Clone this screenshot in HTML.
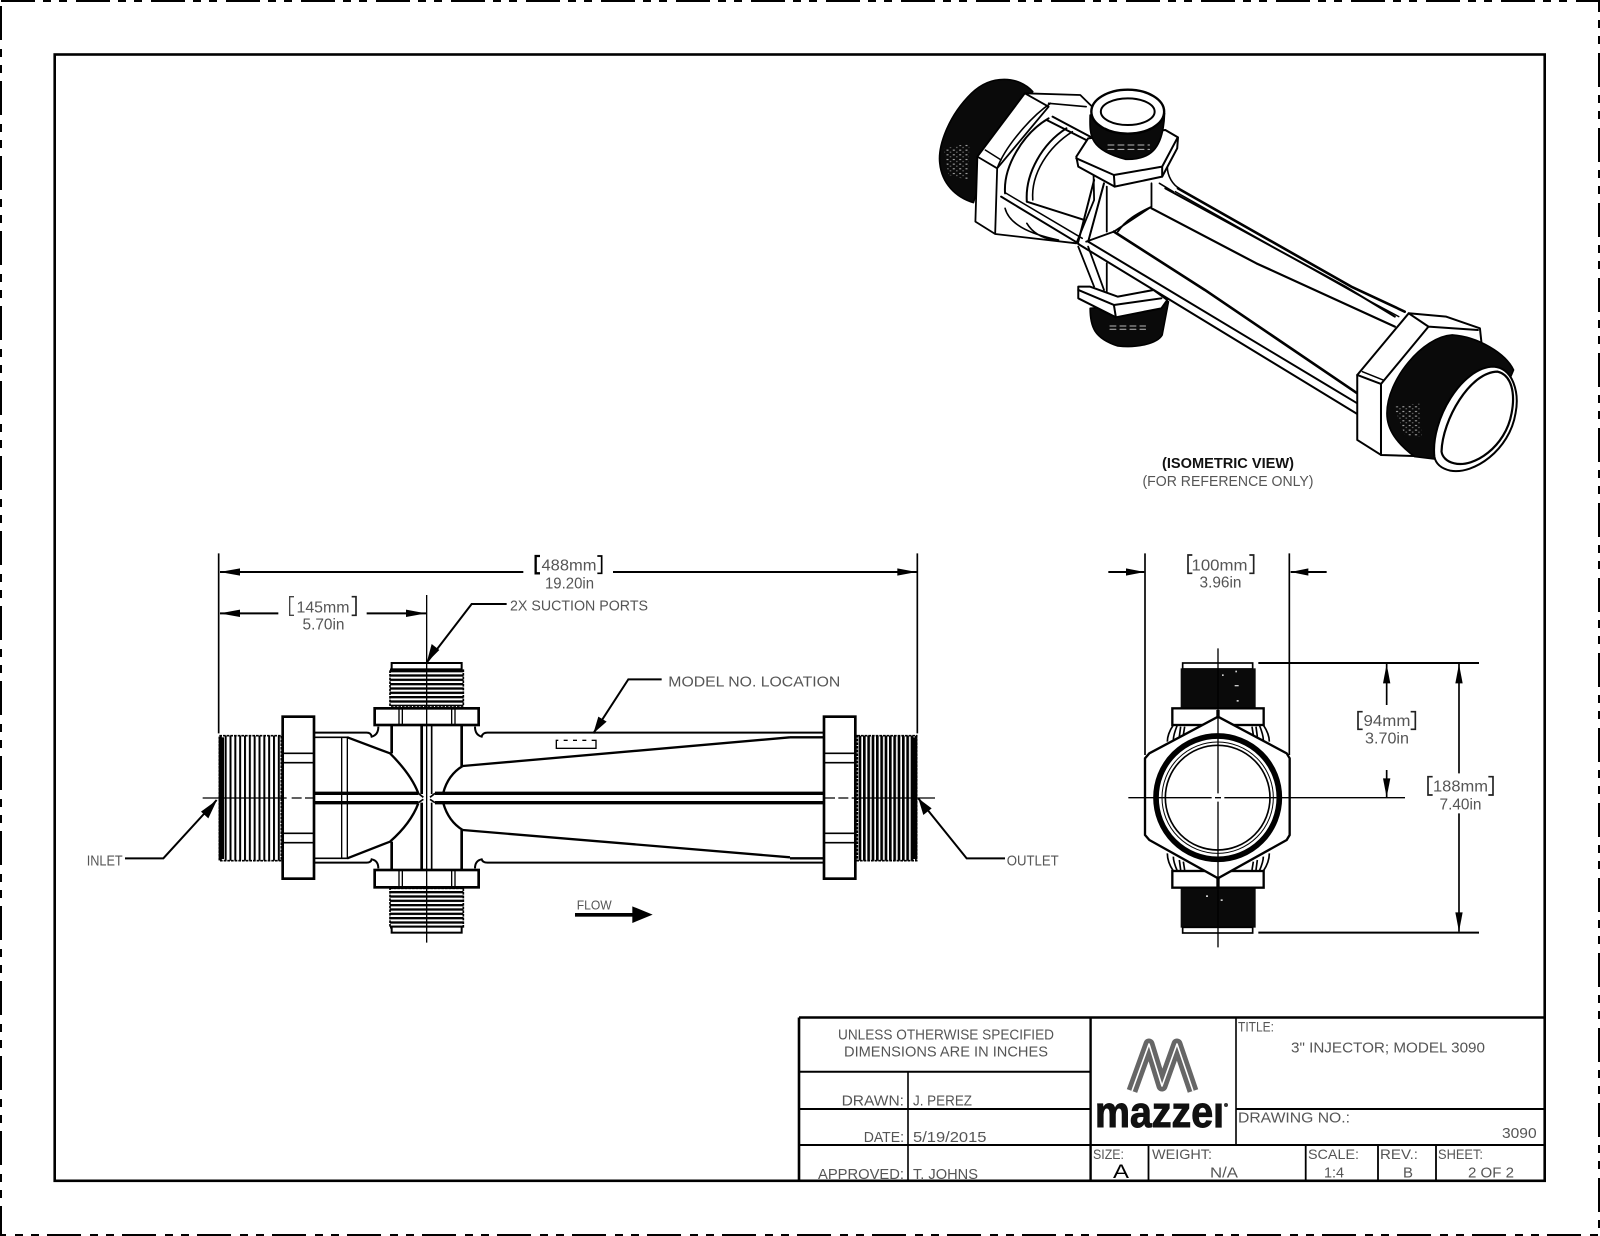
<!DOCTYPE html>
<html>
<head>
<meta charset="utf-8">
<title>3" Injector; Model 3090</title>
<style>
html,body{margin:0;padding:0;background:#fff}
svg{display:block}
text{font-family:"Liberation Sans",sans-serif;fill:#555}
.iso *{vector-effect:non-scaling-stroke}
</style>
</head>
<body>
<svg xmlns="http://www.w3.org/2000/svg" width="1600" height="1236" viewBox="0 0 1600 1236">
<defs>
<pattern id="tv" width="14.5" height="20" patternUnits="userSpaceOnUse"><rect width="14.5" height="20" fill="#fff"/><rect width="6" height="20" fill="#000"/></pattern>
<pattern id="tv2" width="13" height="20" patternUnits="userSpaceOnUse"><rect width="13" height="20" fill="#fff"/><rect width="8" height="20" fill="#000"/></pattern>
<pattern id="th" width="20" height="13" patternUnits="userSpaceOnUse"><rect width="20" height="13" fill="#fff"/><rect width="20" height="7" fill="#000"/></pattern>
<pattern id="fl" width="16" height="14" patternUnits="userSpaceOnUse"><rect width="16" height="14" fill="#0a0a0a"/><rect x="3" y="3" width="5" height="3" fill="#bbb"/><rect x="11" y="9" width="4" height="3" fill="#777"/></pattern>
</defs>
<rect width="1600" height="1236" fill="#fff"/>

<!-- sheet trim -->
<rect x="1" y="1" width="1598" height="1234" fill="none" stroke="#000" stroke-width="2" stroke-dasharray="34 8 8 8 8 9"/>
<!-- frame -->
<rect x="54.7" y="54.5" width="1490" height="1126.3" fill="none" stroke="#000" stroke-width="2.6"/>

<!-- ISOMETRIC VIEW -->
<g class="iso" transform="translate(920 60) scale(.3957 .3333)" fill="none" stroke="#000" stroke-width="1.6" stroke-linejoin="round" stroke-linecap="round">
  <!-- left thread -->
  <path d="M285,95 C250,48 180,42 130,100 C70,170 45,260 50,310 C55,370 90,412 135,428 L170,300 Z" fill="#0a0a0a"/>
  <path d="M60,265 L125,250 L122,360 L72,345 Z" fill="url(#fl)" stroke="none"/>
  <!-- left flange -->
  <path d="M265,100 L405,105 L435,140 L440,420 L395,550 L190,522 L140,485 L145,290 Z" fill="#fff" stroke-width="1.8"/>
  <path d="M145,290 L265,100 L325,140 L195,325 Z M195,325 L190,520" fill="#fff" stroke-width="1.8"/>
  <path d="M165,270 L205,300" stroke-width="1.5"/>
  <path d="M325,130 L420,140 M195,325 C215,260 280,170 330,130"/>
  <path d="M215,400 C210,320 260,220 325,175 M270,425 C265,340 310,250 370,205" stroke-width="2"/>
  <path d="M285,420 C280,340 325,260 385,215"/>
  <path d="M320,180 L420,240 M335,170 L430,230" stroke-width="2"/>
  <path d="M215,445 C225,490 270,520 350,540 M270,490 C285,520 310,535 340,540"/>
  <path d="M270,425 L415,480" stroke-width="2"/>
  <!-- main tube -->
  <path d="M400,550 L590,440 L625,385 L650,385 L1225,755 L1105,945 L1105,1060 Z" fill="#fff" stroke="none"/>
  <path d="M652,385 L1090,680 L1225,755" stroke-width="2.6"/>
  <path d="M620,385 L1075,680 L1200,770" stroke-width="2"/>
  <path d="M645,395 L1100,700 L1210,770" stroke-width="1.4"/>
  <path d="M585,445 L850,610 L1200,800" stroke-width="2.2"/>
  <path d="M490,515 L720,690 L1105,1000" stroke-width="2.6"/>
  <path d="M425,545 L1105,1030" stroke-width="2"/>
  <path d="M400,552 L1105,1062" stroke-width="2"/>
  <path d="M205,410 L400,550" stroke-width="2"/>
  <path d="M215,398 L410,535" stroke-width="1.5"/>
  <path d="M420,545 L490,515 L585,440 L585,370 M500,515 C520,480 550,460 585,440" stroke-width="1.8"/>
  <path d="M605,370 L640,395 M625,320 C625,350 640,375 655,385" stroke-width="1.6"/>
  <!-- struts -->
  <path d="M472,380 L472,515" stroke-width="1.8"/>
  <path d="M440,360 L400,545 M465,370 L425,545" stroke-width="2"/>
  <path d="M400,560 L440,680 M425,560 L465,690 M472,610 L472,695" stroke-width="1.8"/>
  <!-- lower port -->
  <path d="M430,745 C430,800 440,835 500,858 C550,865 600,850 612,825 L628,725 Z" fill="#0a0a0a"/>
  <path d="M480,798 H570 M480,808 H570" stroke="#bbb" stroke-width="1" stroke-dasharray="6 4"/>
  <path d="M400,680 L400,715 L495,772 L610,745 L625,720 L590,690 L500,710 L430,680 Z" fill="#fff" stroke-width="2"/>
  <path d="M400,690 L490,735 L610,715 M490,735 L495,772" stroke-width="2"/>
  <!-- upper port -->
  <path d="M395,290 L425,235 L620,210 L652,232 L650,265 L612,350 L492,380 L400,320 Z" fill="#fff" stroke-width="2"/>
  <path d="M395,295 L490,345 L612,320 L650,235 M490,345 L492,380 M612,320 L612,350" stroke-width="2"/>
  <path d="M430,165 C428,230 430,270 520,298 C580,300 615,270 618,160 Z" fill="#0a0a0a"/>
  <path d="M475,255 H580 M475,268 H580" stroke="#bbb" stroke-width="1" stroke-dasharray="6 4"/>
  <ellipse cx="525" cy="155" rx="92" ry="66" fill="#fff" stroke-width="2.4"/>
  <ellipse cx="525" cy="155" rx="68" ry="40" fill="#fff" stroke-width="2"/>
  <!-- right flange -->
  <path d="M1105,945 L1235,760 L1330,770 L1415,805 L1420,860 L1300,1190 L1165,1185 L1105,1140 Z" fill="#fff" stroke-width="2"/>
  <path d="M1105,945 L1165,972 L1285,800 L1235,760 M1165,972 L1165,1185 M1285,800 L1410,810" stroke-width="2"/>
  <path d="M1118,935 L1170,960" stroke-width="1.5"/>
  <!-- right thread -->
  <path d="M1180,1060 C1180,960 1270,830 1345,825 C1410,830 1480,880 1500,930 L1440,1100 L1320,1200 L1250,1190 C1205,1150 1180,1110 1180,1060 Z" fill="#0a0a0a"/>
  <path d="M1198,1040 L1262,1030 L1268,1130 L1225,1125 Z" fill="url(#fl)" stroke="none"/>
  <path d="M1300,1190 C1290,1080 1370,920 1450,920 C1500,925 1515,1000 1505,1060 C1490,1170 1400,1245 1340,1232 C1315,1225 1303,1210 1300,1190 Z" fill="#fff" stroke-width="2"/>
  <path d="M1318,1175 C1320,1080 1390,935 1460,935 C1495,945 1505,1000 1495,1060 C1480,1160 1400,1225 1350,1210 C1330,1205 1320,1190 1318,1175 Z" fill="#fff" stroke-width="2.2"/>
</g>
<text x="1162" y="468" font-size="14.5" font-weight="bold" style="fill:#111" textLength="132" lengthAdjust="spacingAndGlyphs">(ISOMETRIC VIEW)</text>
<text x="1142.5" y="486" font-size="15" textLength="171" lengthAdjust="spacingAndGlyphs">(FOR REFERENCE ONLY)</text>

<!-- FRONT VIEW (zoom units: 3 = 1px) -->
<g transform="translate(70 540) scale(.33333)" fill="none" stroke="#000" stroke-width="4">
  <!-- threads -->
  <rect x="448" y="587" width="186" height="375" fill="url(#tv)" stroke="#000" stroke-width="5" stroke-dasharray="8 3"/>
  <rect x="446" y="592" width="16" height="365" fill="#000" stroke="none"/>
  <rect x="2362" y="587" width="178" height="375" fill="url(#tv2)" stroke="#000" stroke-width="5" stroke-dasharray="8 3"/>
  <rect x="2528" y="592" width="14" height="365" fill="#000" stroke="none"/>
  <rect x="960" y="388" width="220" height="110" fill="url(#th)" stroke="#000" stroke-width="5" stroke-dasharray="8 3"/>
  <rect x="965" y="369" width="210" height="19" fill="#fff" stroke-width="6"/>
  <rect x="960" y="1045" width="220" height="118" fill="url(#th)" stroke="#000" stroke-width="5" stroke-dasharray="8 3"/>
  <rect x="965" y="1160" width="210" height="18" fill="#fff" stroke-width="6"/>
  <!-- body lines -->
  <path d="M735,578 H890 Q903,578 905,590 Q925,585 925,560" stroke-width="6"/>
  <path d="M735,592 H835" stroke-width="5"/>
  <path d="M1215,560 Q1215,585 1235,590 Q1238,578 1252,578 H2260" stroke-width="6"/>
  <path d="M735,968 H890 Q903,968 905,958 Q925,962 925,985" stroke-width="6"/>
  <path d="M735,955 H835" stroke-width="5"/>
  <path d="M1215,985 Q1215,962 1235,958 Q1238,968 1252,968 H2260" stroke-width="6"/>
  <path d="M2160,592 H2262 M2160,955 H2262" stroke-width="7"/>
  <path d="M1178,678 L2160,592" stroke-width="7"/>
  <path d="M1178,870 L2160,952" stroke-width="7"/>
  <path d="M1178,678 C1150,695 1130,720 1120,758" stroke-width="7"/>
  <path d="M1178,870 C1150,853 1130,825 1120,790" stroke-width="7"/>
  <path d="M735,760 H1045 M1095,760 H2260" stroke-width="10"/>
  <path d="M735,788 H1045 M1095,788 H2260" stroke-width="10"/>
  <path d="M1045,760 L1060,772 M1095,760 L1080,772 M1045,788 L1060,778 M1095,788 L1080,778" stroke-width="5"/>
  <path d="M815,592 V955 M832,592 V955" stroke-width="4"/>
  <path d="M832,592 L960,640 C1000,680 1030,720 1045,760" stroke-width="7"/>
  <path d="M832,955 L960,905 C1000,870 1030,830 1045,790" stroke-width="7"/>
  <path d="M965,558 V640 M965,905 V988" stroke-width="8"/>
  <path d="M1055,558 V762 M1055,788 V988" stroke-width="8"/>
  <path d="M1085,558 V762 M1085,788 V988" stroke-width="5"/>
  <path d="M1175,558 V678 M1175,870 V988" stroke-width="8"/>
  <!-- port flanges -->
  <rect x="914" y="505" width="312" height="50" fill="#fff" stroke-width="8"/>
  <rect x="914" y="990" width="312" height="52" fill="#fff" stroke-width="8"/>
  <path d="M987,505 V555 M997,505 V555 M1145,505 V555 M1155,505 V555 M987,990 V1042 M997,990 V1042 M1145,990 V1042 M1155,990 V1042" stroke-width="4"/>
  <!-- pipe flanges -->
  <rect x="638" y="530" width="94" height="486" fill="#fff" stroke-width="8"/>
  <path d="M640,640 H730 M640,668 H730 M640,880 H730 M640,908 H730" stroke-width="5"/>
  <rect x="2262" y="530" width="94" height="486" fill="#fff" stroke-width="8"/>
  <path d="M2264,640 H2354 M2264,668 H2354 M2264,880 H2354 M2264,908 H2354" stroke-width="5"/>
  <!-- centre lines -->
  <path d="M398,774 H650 M665,774 H695 M705,774 H730" stroke-width="4"/>
  <path d="M2265,774 H2295 M2305,774 H2335 M2345,774 H2595" stroke-width="4"/>
  <path d="M1070,165 V1208" stroke-width="4"/>
  <!-- model label -->
  <rect x="1459" y="601" width="119" height="24" stroke-width="4" fill="#fff"/>
  <path d="M1465,601 H1570" stroke="#fff" stroke-width="5" stroke-dasharray="16 12"/>
  <!-- dimensions -->
  <path d="M446,40 V580 M2542,40 V580" stroke-width="5"/>
  <path d="M450,96 H1360 M1629,96 H2540 M450,220 H625 M890,220 H1068" stroke-width="6"/>
  <g fill="#000" stroke="none">
    <polygon points="449,96 510,85 510,107"/>
    <polygon points="2540,96 2482,85 2482,107"/>
    <polygon points="449,220 510,209 510,231"/>
    <polygon points="1068,220 1008,209 1008,231"/>
    <polygon points="1070,368 1085,312 1108,330"/>
    <polygon points="1570,580 1585,530 1610,545"/>
    <polygon points="441,780 393,815 415,835"/>
    <polygon points="2545,775 2560,825 2585,805"/>
    <rect x="1515" y="1119" width="175" height="11"/>
    <polygon points="1687,1099 1748,1124 1687,1149"/>
  </g>
  <path d="M1070,368 L1205,192 H1310" stroke-width="6"/>
  <path d="M1570,580 L1675,418 H1775" stroke-width="6"/>
  <path d="M165,955 H280 L440,780" stroke-width="6"/>
  <path d="M2805,955 H2690 L2545,775" stroke-width="6"/>
  <!-- brackets -->
  <path d="M1410,48 H1397 V100 H1410" stroke-width="7"/>
  <path d="M1582,48 H1595 V100 H1582" stroke-width="5"/>
  <path d="M672,170 H659 V226 H672" stroke="#444" stroke-width="4"/>
  <path d="M845,170 H858 V226 H845" stroke="#222" stroke-width="5"/>
</g>
<text x="296.5" y="612.7" font-size="15.5" textLength="53" lengthAdjust="spacingAndGlyphs">145mm</text>
<text x="302.5" y="629.3" font-size="15.5" textLength="42" lengthAdjust="spacingAndGlyphs">5.70in</text>
<text x="541.5" y="570.7" font-size="15.5" textLength="55" lengthAdjust="spacingAndGlyphs">488mm</text>
<text x="545" y="588.3" font-size="15.5" textLength="49" lengthAdjust="spacingAndGlyphs">19.20in</text>
<text x="510" y="610.7" font-size="15" textLength="138" lengthAdjust="spacingAndGlyphs">2X SUCTION PORTS</text>
<text x="668.3" y="686.7" font-size="15" textLength="172" lengthAdjust="spacingAndGlyphs">MODEL NO. LOCATION</text>
<text x="86.7" y="865.7" font-size="15" textLength="36" lengthAdjust="spacingAndGlyphs">INLET</text>
<text x="1006.7" y="865.7" font-size="15" textLength="52" lengthAdjust="spacingAndGlyphs">OUTLET</text>
<text x="576.7" y="909.3" font-size="12.5" textLength="35" lengthAdjust="spacingAndGlyphs">FLOW</text>

<!-- SIDE VIEW -->
<g transform="translate(1090 540) scale(.33333)" fill="none" stroke="#000" stroke-width="5">
  <!-- threads -->
  <rect x="278" y="369" width="210" height="18" fill="#fff" stroke-width="5"/>
  <rect x="272" y="385" width="225" height="120" fill="#0a0a0a" stroke="none"/>
  <rect x="272" y="1043" width="225" height="120" fill="#0a0a0a" stroke="none"/>
  <rect x="278" y="1162" width="210" height="17" fill="#fff" stroke-width="5"/>
  <g fill="#ccc" stroke="none"><rect x="396" y="403" width="5" height="5"/><rect x="436" y="392" width="5" height="5"/><rect x="434" y="435" width="12" height="4"/><rect x="440" y="480" width="6" height="5"/><rect x="348" y="1066" width="6" height="5"/><rect x="392" y="1078" width="6" height="5"/></g>
  <!-- rib bits -->
  <path d="M250,555 C240,570 232,585 232,605 M262,555 C254,575 250,590 250,600 M272,560 L268,590 M284,560 L280,585 M520,555 C530,570 538,585 538,605 M508,555 C516,575 520,590 520,600 M498,560 L502,590 M486,560 L490,585" stroke-width="5"/>
  <path d="M250,993 C240,978 232,960 232,940 M262,993 C254,975 250,960 250,950 M272,990 L268,960 M284,990 L280,965 M520,993 C530,978 538,960 538,940 M508,993 C516,975 520,960 520,950 M498,990 L502,960 M486,990 L490,965" stroke-width="5"/>
  <!-- flanges -->
  <rect x="247" y="505" width="274" height="50" fill="#fff" stroke-width="7"/>
  <rect x="247" y="993" width="274" height="50" fill="#fff" stroke-width="7"/>
  <!-- hex -->
  <polygon points="384,530 590,640 599,655 599,885 590,900 384,1015 178,900 165,885 165,655 178,640" fill="#fff" stroke-width="7"/>
  <!-- circles -->
  <circle cx="383" cy="773" r="185" fill="#fff" stroke-width="17"/>
  <circle cx="383" cy="773" r="167" stroke-width="3"/>
  <circle cx="383" cy="773" r="157" stroke-width="5"/>
  <!-- centre -->
  <path d="M115,773 H365 M375,773 H393 M403,773 H945" stroke-width="4"/>
  <path d="M384,325 V520 M384,530 V760 M384,785 V1015 M384,1025 V1222" stroke-width="4"/>
  <path d="M384,510 V530 M384,1015 V1040" stroke-width="10"/>
  <!-- dims -->
  <path d="M165,40 V645 M598,40 V645" stroke-width="5"/>
  <path d="M55,96 H163 M602,96 H710" stroke-width="6"/>
  <path d="M505,369 H1167 M505,1178 H1167" stroke-width="6"/>
  <path d="M890,372 V495 M890,690 V772 M1107,372 V700 M1107,820 V1175" stroke-width="5"/>
  <g fill="#000" stroke="none">
    <polygon points="163,96 108,85 108,107"/>
    <polygon points="602,96 655,85 655,107"/>
    <polygon points="890,372 879,430 901,430"/>
    <polygon points="890,772 879,715 901,715"/>
    <polygon points="1107,372 1096,430 1118,430"/>
    <polygon points="1107,1175 1096,1117 1118,1117"/>
  </g>
  <g stroke="#222" stroke-width="5">
    <path d="M307,45 H294 V100 H307 M478,45 H491 V100 H478"/>
    <path d="M818,515 H804 V568 H818 M962,515 H976 V568 H962"/>
    <path d="M1028,710 H1014 V765 H1028 M1195,710 H1209 V765 H1195"/>
  </g>
</g>
<text x="1191.5" y="570.7" font-size="15.5" textLength="56" lengthAdjust="spacingAndGlyphs">100mm</text>
<text x="1199.5" y="587.7" font-size="15.5" textLength="42" lengthAdjust="spacingAndGlyphs">3.96in</text>
<text x="1363.5" y="726" font-size="15.5" textLength="47" lengthAdjust="spacingAndGlyphs">94mm</text>
<text x="1365" y="743.3" font-size="15.5" textLength="44" lengthAdjust="spacingAndGlyphs">3.70in</text>
<text x="1433" y="791.7" font-size="15.5" textLength="55" lengthAdjust="spacingAndGlyphs">188mm</text>
<text x="1439.5" y="809.3" font-size="15.5" textLength="42" lengthAdjust="spacingAndGlyphs">7.40in</text>

<!-- TITLE BLOCK -->
<g fill="none" stroke="#000">
  <path d="M799,1017.5 H1545 M799,1017.5 V1180" stroke-width="2.6"/>
  <path d="M1090.6,1017.5 V1180" stroke-width="2.4"/>
  <path d="M1236,1017.5 V1145" stroke-width="1.6"/>
  <path d="M799,1071.7 H1090.6 M799,1109 H1090.6 M1236,1109 H1545" stroke-width="2"/>
  <path d="M799,1145 H1545" stroke-width="2"/>
  <path d="M908,1071.7 V1180" stroke-width="1.6"/>
  <path d="M1148.5,1145 V1180 M1305.7,1145 V1180 M1378,1145 V1180 M1436,1145 V1180" stroke-width="1.8"/>
</g>
<text x="838" y="1039.3" font-size="15" textLength="216" lengthAdjust="spacingAndGlyphs">UNLESS OTHERWISE SPECIFIED</text>
<text x="844" y="1056.7" font-size="15" textLength="204" lengthAdjust="spacingAndGlyphs">DIMENSIONS ARE IN INCHES</text>
<text x="841.6" y="1105.7" font-size="15" textLength="62.4" lengthAdjust="spacingAndGlyphs">DRAWN:</text>
<text x="913" y="1105.7" font-size="15" textLength="59" lengthAdjust="spacingAndGlyphs">J. PEREZ</text>
<text x="863.7" y="1142" font-size="15" textLength="40.3" lengthAdjust="spacingAndGlyphs">DATE:</text>
<text x="913" y="1142" font-size="15" textLength="73.5" lengthAdjust="spacingAndGlyphs">5/19/2015</text>
<text x="818" y="1179" font-size="15" textLength="86" lengthAdjust="spacingAndGlyphs">APPROVED:</text>
<text x="913" y="1179" font-size="15" textLength="65" lengthAdjust="spacingAndGlyphs">T. JOHNS</text>
<text x="1238" y="1031.7" font-size="14" textLength="36" lengthAdjust="spacingAndGlyphs">TITLE:</text>
<text x="1291" y="1052.7" font-size="15" textLength="194" lengthAdjust="spacingAndGlyphs">3" INJECTOR; MODEL 3090</text>
<text x="1238" y="1122.7" font-size="15" textLength="112" lengthAdjust="spacingAndGlyphs">DRAWING NO.:</text>
<text x="1502" y="1138" font-size="15" textLength="34.6" lengthAdjust="spacingAndGlyphs">3090</text>
<text x="1093" y="1159" font-size="14" textLength="31" lengthAdjust="spacingAndGlyphs">SIZE:</text>
<text x="1113" y="1178" font-size="19" style="fill:#000" textLength="16" lengthAdjust="spacingAndGlyphs">A</text>
<text x="1152" y="1159" font-size="14" textLength="60" lengthAdjust="spacingAndGlyphs">WEIGHT:</text>
<text x="1210" y="1177.7" font-size="14.5" textLength="28" lengthAdjust="spacingAndGlyphs">N/A</text>
<text x="1308" y="1159" font-size="14" textLength="51" lengthAdjust="spacingAndGlyphs">SCALE:</text>
<text x="1324" y="1177.7" font-size="14.5" textLength="20" lengthAdjust="spacingAndGlyphs">1:4</text>
<text x="1380" y="1159" font-size="14" textLength="38" lengthAdjust="spacingAndGlyphs">REV.:</text>
<text x="1403" y="1177.7" font-size="14.5" textLength="10" lengthAdjust="spacingAndGlyphs">B</text>
<text x="1438" y="1159" font-size="14" textLength="45" lengthAdjust="spacingAndGlyphs">SHEET:</text>
<text x="1468" y="1177.7" font-size="14.5" textLength="46" lengthAdjust="spacingAndGlyphs">2 OF 2</text>

<!-- logo -->
<g fill="none" stroke-linejoin="round">
  <polyline points="1132,1091 1149,1044 1162,1086 1177,1044 1193,1091" stroke="#666" stroke-width="11"/>
  <polyline points="1132,1091 1149,1044 1162,1086 1177,1044 1193,1091" stroke="#fff" stroke-width="1.6"/>
</g>
<text x="1095" y="1127" font-size="44" font-weight="bold" style="fill:#111" stroke="#111" stroke-width="1" textLength="129" lengthAdjust="spacingAndGlyphs">mazzei</text>
<rect x="1205" y="1090" width="22" height="12" fill="#fff"/>
<circle cx="1226" cy="1105" r="2" fill="#333"/>
</svg>
</body>
</html>
